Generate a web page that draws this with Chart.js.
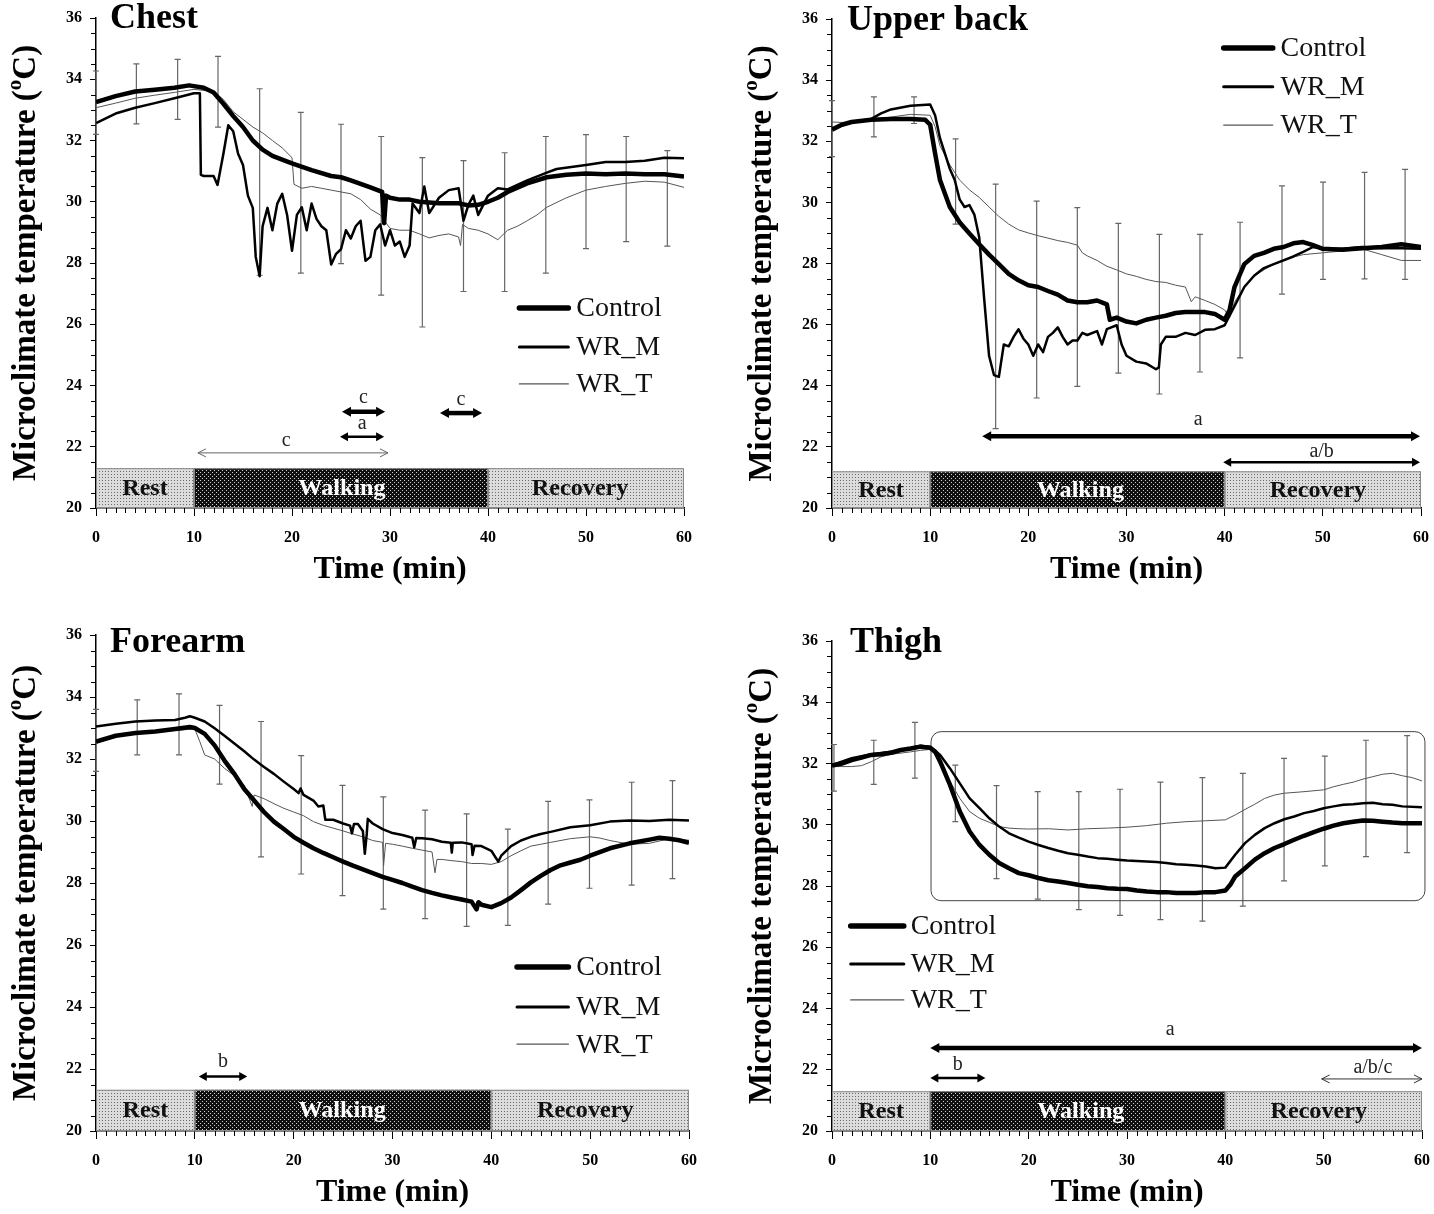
<!DOCTYPE html>
<html>
<head>
<meta charset="utf-8">
<script src="https://cdn.jsdelivr.net/npm/chart.js@4.4.1/dist/chart.umd.min.js"></script>
<style>
body { margin:0; background:#fff; width:1434px; height:1214px; position:relative; overflow:hidden; }
canvas { position:absolute; }
</style>
</head>
<body>
<canvas id="chest" width="717" height="607" style="left:0;top:0"></canvas>
<canvas id="upperback" width="740" height="607" style="left:717px;top:0"></canvas>
<canvas id="forearm" width="717" height="607" style="left:0;top:607px"></canvas>
<canvas id="thigh" width="740" height="607" style="left:717px;top:607px"></canvas>
<script>
// ---- data: [time (min), temperature (ºC)] ----
const chestControl = [[0,33.25],[1,33.35],[2,33.45],[4,33.6],[6,33.66],[8,33.72],[9.5,33.8],[11,33.72],[12,33.57],[13,33.2],[14,32.8],[15,32.44],[16,32.0],[17,31.7],[18,31.5],[20,31.25],[22,31.03],[24,30.84],[25,30.8],[26,30.7],[28,30.47],[29.2,30.32],[29.4,29.3],[29.6,30.2],[30,30.13],[31,30.07],[32,30.07],[33,30.0],[35,29.95],[37,29.95],[38,29.88],[39,29.9],[40,30.0],[41,30.13],[42,30.32],[44,30.6],[46,30.8],[48,30.88],[50,30.92],[52,30.9],[54,30.92],[56,30.9],[58,30.9],[60,30.82]];
const chestWRM = [[0,32.57],[2,32.88],[4,33.07],[6,33.22],[8,33.38],[10,33.54],[10.6,33.54],[10.7,30.88],[11,30.84],[12,30.84],[12.4,30.55],[13,31.57],[13.5,32.5],[14,32.3],[14.5,31.57],[15,31.2],[15.5,30.2],[16,29.8],[16.3,28.2],[16.7,27.57],[17,29.2],[17.5,29.8],[18,29.07],[18.5,29.94],[19,30.26],[19.5,29.57],[20,28.4],[20.5,29.57],[21,29.82],[21.5,29.07],[22,29.94],[22.5,29.44],[23,29.2],[23.5,29.07],[24,27.95],[24.5,28.3],[25,28.45],[25.5,29.07],[26,28.8],[26.5,29.2],[27,29.38],[27.5,28.07],[28,28.2],[28.5,29.07],[29,29.26],[29.5,28.57],[30,29.07],[30.5,28.57],[31,28.7],[31.5,28.2],[32,28.57],[32.3,29.94],[33,29.63],[33.5,30.5],[34,29.63],[35,30.13],[36,30.38],[37,30.44],[37.5,29.38],[38,29.9],[38.5,30.2],[39,29.57],[40,30.2],[41,30.44],[42,30.4],[44,30.7],[46,30.95],[47,31.07],[50,31.2],[52,31.3],[54,31.3],[56,31.34],[58,31.44],[60,31.42]];
const chestWRT = [[0,33.07],[2,33.22],[4,33.38],[6,33.48],[8,33.57],[10,33.67],[12,33.6],[13,33.34],[14,32.94],[15,32.69],[16,32.44],[17,32.25],[18,32.0],[19,31.76],[20,31.44],[20.2,30.57],[21,30.44],[22,30.5],[23,30.44],[24,30.38],[25,30.32],[26,30.26],[27,30.07],[28,29.76],[29,29.57],[30,29.13],[31,29.07],[32,29.07],[33,28.95],[34,28.82],[35,28.9],[36,28.95],[37,28.85],[37.2,28.57],[37.4,29.26],[38,29.13],[39,29.07],[40,28.95],[41,28.76],[42,29.07],[43,29.2],[44,29.38],[45,29.57],[46,29.82],[48,30.13],[50,30.38],[52,30.5],[54,30.6],[56,30.67],[58,30.64],[60,30.47]];
const chestErrT = [0,4.12,8.33,12.45,16.7,20.9,25.0,29.1,33.3,37.5,41.7,45.9,50.0,54.1,58.3];
const chestErrHi = [34.27,34.5,34.65,34.75,33.69,32.92,32.53,32.13,31.44,31.34,31.6,32.13,32.19,32.13,31.67];
const chestErrLo = [32.2,32.54,32.69,32.44,27.6,27.67,27.98,26.95,25.91,27.07,27.07,27.67,28.47,28.7,28.55];

const backControl = [[0,32.38],[1,32.54],[2,32.63],[4,32.7],[6,32.73],[8,32.73],[9.5,32.7],[10,32.54],[10.5,31.6],[11,30.73],[12,29.85],[13,29.35],[14,28.98],[15,28.63],[16,28.29],[17,27.98],[18,27.66],[19,27.45],[20,27.29],[21,27.23],[22,27.1],[23,26.98],[24,26.79],[25,26.73],[26,26.73],[27,26.79],[28,26.66],[28.3,26.16],[29,26.23],[30,26.1],[31,26.04],[32,26.16],[33,26.23],[34,26.29],[35,26.38],[36,26.41],[37,26.41],[38,26.41],[39,26.35],[40,26.16],[40.5,26.48],[41,27.23],[42,27.98],[43,28.25],[44,28.35],[45,28.48],[46,28.54],[47,28.66],[48,28.7],[49,28.6],[50,28.48],[52,28.45],[54,28.5],[56,28.54],[58,28.63],[60,28.54]];
const backWRM = [[0,32.41],[2,32.63],[4,32.73],[5,32.91],[6,33.04],[8,33.16],[10,33.2],[10.5,32.85],[11,32.1],[12,31.1],[12.5,30.73],[13,30.1],[13.5,29.85],[14,29.91],[14.5,29.6],[15,28.85],[15.5,26.85],[16,24.98],[16.5,24.35],[17,24.29],[17.5,25.35],[18,25.29],[18.5,25.6],[19,25.85],[19.5,25.54],[20,25.35],[20.5,24.98],[21,25.35],[21.5,25.1],[22,25.6],[22.5,25.73],[23,25.91],[23.5,25.6],[24,25.35],[24.5,25.48],[25,25.48],[25.5,25.73],[26,25.66],[27,25.79],[27.5,25.35],[28,25.85],[29,25.98],[29.5,25.35],[30,24.98],[31,24.79],[32,24.73],[33,24.54],[33.3,24.6],[33.5,25.35],[34,25.6],[35,25.6],[36,25.73],[37,25.66],[38,25.83],[39,25.85],[40,25.98],[41,26.6],[42,27.23],[43,27.6],[44,27.85],[45,27.98],[46,28.1],[47,28.23],[48,28.38],[49,28.54],[50,28.48],[52,28.48],[54,28.54],[56,28.5],[58,28.5],[60,28.48]];
const backWRT = [[0,32.63],[2,32.6],[4,32.7],[6,32.79],[8,32.88],[10,32.85],[10.5,32.48],[11,31.85],[12,31.23],[13,30.73],[14,30.41],[15,30.16],[16,29.85],[17,29.54],[18,29.29],[19,29.1],[20,29.0],[21,28.91],[22,28.83],[23,28.75],[24,28.69],[25,28.6],[25.5,28.35],[26,28.25],[27,28.1],[28,27.91],[29,27.79],[30,27.66],[31,27.58],[32,27.48],[33,27.41],[34,27.38],[35,27.29],[36,27.23],[36.6,26.75],[37,26.91],[38,26.79],[39,26.66],[40,26.48],[40.5,26.23],[41,26.73],[42,27.23],[43,27.6],[44,27.79],[45,27.98],[46,28.13],[48,28.29],[50,28.35],[52,28.41],[54,28.48],[56,28.29],[58,28.1],[60,28.1]];
const backErrT = [0,4.27,8.36,12.59,16.67,20.85,24.99,29.17,33.35,37.48,41.57,45.84,50.02,54.25,58.38];
const backErrHi = [33.33,33.45,33.45,32.08,30.6,30.04,29.83,29.31,28.95,28.95,29.35,30.54,30.66,30.98,31.08];
const backErrLo = [31.5,32.14,32.58,29.29,22.6,23.6,23.98,24.41,23.73,24.45,24.91,27.0,27.48,27.5,27.48];

const armControl = [[0,32.56],[2,32.75],[4,32.84],[6,32.89],[8,32.97],[9.5,33.03],[10,33.0],[11,32.81],[12,32.44],[13,31.95],[14,31.52],[15,31.03],[16,30.66],[17,30.29],[18,29.98],[19,29.74],[20,29.49],[21,29.3],[22,29.12],[23,28.97],[24,28.83],[25,28.69],[26,28.56],[27,28.44],[28,28.32],[29,28.2],[30,28.1],[31,28.0],[32,27.88],[33,27.77],[34,27.68],[35,27.6],[36,27.53],[37,27.47],[38,27.4],[38.5,27.15],[38.7,27.38],[39,27.3],[40,27.22],[41,27.35],[42,27.53],[43,27.77],[44,28.02],[45,28.23],[46,28.42],[47,28.57],[48,28.66],[49,28.75],[50,28.88],[52,29.12],[54,29.28],[56,29.4],[57,29.46],[58,29.43],[59,29.38],[60,29.3]];
const armWRM = [[0,33.05],[2,33.14],[4,33.21],[6,33.24],[8,33.26],[9,33.33],[9.5,33.38],[10,33.33],[11,33.21],[12,32.99],[13,32.75],[14,32.5],[15,32.25],[16,31.98],[17,31.74],[18,31.52],[19,31.27],[20,31.03],[20.5,30.9],[20.7,31.05],[21,30.84],[22,30.66],[22.5,30.47],[23,30.5],[23.2,30.04],[24,30.04],[25,29.92],[25.7,29.85],[25.9,29.6],[26.1,29.9],[26.5,29.9],[27,29.68],[27.2,28.94],[27.4,29.6],[27.5,30.07],[28,29.92],[29,29.74],[30,29.61],[31,29.55],[32,29.46],[32.2,29.15],[32.4,29.45],[33,29.44],[34,29.41],[35,29.33],[35.9,29.3],[36,28.98],[36.1,29.3],[37,29.31],[38,29.25],[38.1,28.9],[38.3,29.2],[39,29.19],[40,29.04],[40.7,28.69],[41,28.88],[42,29.19],[43,29.37],[44,29.49],[45,29.58],[46,29.65],[48,29.8],[50,29.86],[52,29.98],[54,30.02],[56,30.0],[58,30.04],[60,30.02]];
const armWRT = [[0,32.5],[2,32.72],[4,32.81],[6,32.87],[8,32.92],[10,32.97],[10.5,32.56],[11,32.13],[12,32.0],[13,31.7],[14,31.46],[15,31.15],[15.8,30.47],[16,30.84],[17,30.72],[18,30.56],[19,30.41],[20,30.29],[21,30.17],[22,29.98],[23,29.86],[24,29.77],[25,29.68],[26,29.58],[27,29.49],[28,29.37],[29,29.31],[29.1,28.57],[29.3,29.28],[30,29.25],[31,29.19],[32,29.12],[33,29.06],[34,29.0],[34.3,28.33],[34.5,28.76],[35,28.76],[36,28.72],[37,28.69],[38,28.63],[39,28.63],[40,28.6],[41,28.69],[42,28.88],[43,29.04],[44,29.19],[45,29.25],[46,29.31],[48,29.43],[50,29.49],[51,29.45],[52,29.37],[54,29.25],[56,29.28],[58,29.43],[60,29.38]];
const armErrT = [0,4.17,8.4,12.5,16.7,20.76,24.94,29.07,33.3,37.5,41.67,45.75,49.93,54.2,58.33];
const armErrHi = [33.6,33.91,34.1,33.73,33.21,32.11,31.15,30.78,30.35,30.23,29.74,30.63,30.68,31.25,31.3];
const armErrLo = [31.6,32.13,32.13,31.19,28.84,28.29,27.59,27.16,26.85,26.6,26.63,27.32,27.83,27.93,28.14];

const thighControl = [[0,31.93],[1,32.0],[2,32.11],[3,32.19],[4,32.28],[5,32.3],[6,32.35],[7,32.44],[8,32.49],[9,32.55],[10,32.51],[10.5,32.38],[11,32.06],[12,31.3],[13,30.43],[14,29.78],[15,29.34],[16,29.02],[17,28.75],[18,28.58],[19,28.42],[20,28.35],[21,28.26],[22,28.19],[23,28.15],[24,28.1],[25,28.04],[26,27.99],[27,27.97],[28,27.93],[29,27.91],[30,27.9],[31,27.85],[32,27.82],[33,27.8],[34,27.8],[35,27.77],[36,27.77],[37,27.77],[38,27.8],[39,27.8],[40,27.85],[40.5,28.04],[41,28.31],[42,28.58],[43,28.86],[44,29.07],[45,29.24],[46,29.37],[47,29.51],[48,29.64],[49,29.76],[50,29.87],[51,29.97],[52,30.05],[53,30.1],[54,30.14],[55,30.13],[56,30.1],[57,30.07],[58,30.05],[60,30.05]];
const thighWRM = [[0,31.95],[2,32.17],[4,32.3],[6,32.38],[8,32.51],[9,32.58],[10,32.55],[11,32.28],[12,31.84],[13,31.35],[14,30.86],[15,30.54],[16,30.21],[17,29.94],[18,29.72],[19,29.58],[20,29.45],[21,29.34],[22,29.24],[23,29.15],[24,29.07],[25,29.02],[26,28.96],[27,28.91],[28,28.89],[29,28.86],[30,28.83],[31,28.82],[32,28.8],[33,28.78],[34,28.75],[35,28.71],[36,28.69],[37,28.67],[38,28.64],[39,28.58],[40,28.6],[41,29.02],[42,29.4],[43,29.67],[44,29.89],[45,30.05],[46,30.18],[47,30.27],[48,30.38],[49,30.45],[50,30.54],[51,30.6],[52,30.65],[53,30.67],[54,30.7],[55,30.72],[56,30.67],[57,30.65],[58,30.6],[60,30.57]];
const thighWRT = [[0,31.9],[2,31.9],[3,31.93],[4,32.06],[5,32.22],[6,32.3],[8,32.38],[9,32.43],[10,32.46],[10.5,32.28],[11,31.95],[12,31.41],[13,30.86],[14,30.43],[15,30.21],[16,30.08],[17,29.94],[18,29.89],[19,29.87],[20,29.86],[22,29.87],[24,29.83],[26,29.87],[28,29.89],[30,29.92],[32,29.97],[34,30.05],[36,30.1],[38,30.13],[40,30.16],[41,30.32],[42,30.5],[43,30.67],[44,30.86],[45,30.97],[46,31.03],[48,31.08],[50,31.14],[51,31.24],[52,31.32],[53,31.39],[54,31.49],[55,31.57],[56,31.65],[57,31.68],[58,31.6],[59,31.54],[60,31.43]];
const thighErrT = [0.2,4.25,8.43,12.54,16.73,20.92,25.1,29.29,33.4,37.67,41.78,45.97,50.12,54.3,58.49];
const thighErrHi = [32.62,32.76,33.34,31.95,31.28,31.08,31.08,31.16,31.39,31.54,31.68,32.17,32.24,32.76,32.91];
const thighErrLo = [31.1,31.32,31.52,30.1,28.24,27.57,27.23,27.04,26.9,26.85,27.34,28.17,28.66,28.96,29.09];

const seriesNames = ['Control', 'WR_M', 'WR_T'];
const phaseNames = ['Rest', 'Walking', 'Recovery'];
const phaseEdges = [0, 10, 40, 60];
const yTicks = [20, 22, 24, 26, 28, 30, 32, 34, 36];
const xTicks = [0, 10, 20, 30, 40, 50, 60];

const SERIF = '"Liberation Serif", "Times New Roman", serif';
Chart.defaults.font.family = SERIF;

function txt(ctx, s, x, y, size, o) {
    o = o || {};
    ctx.save();
    ctx.font = (o.bold ? 'bold ' : '') + size + 'px ' + SERIF;
    ctx.fillStyle = o.color || '#000';
    ctx.textAlign = o.align || 'left';
    ctx.textBaseline = o.base || 'alphabetic';
    ctx.translate(x, y);
    if (o.rot) ctx.rotate(o.rot);
    ctx.scale(o.sx || 1, 1);
    ctx.fillText(s, 0, 0);
    ctx.restore();
}

function makePattern(ctx, bg, dot, size, two) {
    const c = document.createElement('canvas');
    c.width = c.height = size;
    const g = c.getContext('2d');
    g.fillStyle = bg; g.fillRect(0, 0, size, size);
    g.fillStyle = dot; g.fillRect(0, 0, 1, 1);
    if (two) g.fillRect(size / 2, size / 2, 1, 1);
    return ctx.createPattern(c, 'repeat');
}

function drawArrow(ctx, xa, xb, y, style, color) {
    const w = style === 'thick' ? 4.5 : style === 'med' ? 2.5 : 1;
    const hl = style === 'thick' ? 9 : 8;
    const hw = style === 'thick' ? 5 : style === 'med' ? 4.5 : 4;
    ctx.save();
    ctx.strokeStyle = color; ctx.fillStyle = color; ctx.lineWidth = w;
    ctx.beginPath();
    if (style === 'thin') {
        ctx.moveTo(xa, y); ctx.lineTo(xb, y);
        ctx.moveTo(xa + hl, y - hw); ctx.lineTo(xa, y); ctx.lineTo(xa + hl, y + hw);
        ctx.moveTo(xb - hl, y - hw); ctx.lineTo(xb, y); ctx.lineTo(xb - hl, y + hw);
        ctx.stroke();
    } else {
        ctx.moveTo(xa + hl * 0.6, y); ctx.lineTo(xb - hl * 0.6, y);
        ctx.stroke();
        ctx.beginPath();
        ctx.moveTo(xa, y); ctx.lineTo(xa + hl, y - hw); ctx.lineTo(xa + hl, y + hw); ctx.closePath();
        ctx.moveTo(xb, y); ctx.lineTo(xb - hl, y - hw); ctx.lineTo(xb - hl, y + hw); ctx.closePath();
        ctx.fill();
    }
    ctx.restore();
}

function decor(p) {
    return {
        id: 'decor',
        beforeDatasetsDraw(chart) {
            const ctx = chart.ctx, a = chart.chartArea, x = chart.scales.x, y = chart.scales.y;
            // phase bars
            const pats = [
                makePattern(ctx, '#dcdcdc', '#6a6a6a', 3),
                makePattern(ctx, '#101010', '#d0d0d0', 4, true),
                makePattern(ctx, '#dcdcdc', '#6a6a6a', 3)
            ];
            const top = y.getPixelForValue(p.barTop);
            for (let i = 0; i < 3; i++) {
                const x0 = x.getPixelForValue(phaseEdges[i]), x1 = x.getPixelForValue(phaseEdges[i + 1]);
                ctx.fillStyle = pats[i];
                ctx.fillRect(x0, top, x1 - x0, a.bottom - top);
                ctx.strokeStyle = '#8a8a8a'; ctx.lineWidth = 1;
                ctx.strokeRect(x0 + 0.5, top + 0.5, x1 - x0 - 1, a.bottom - top - 1);
                txt(ctx, phaseNames[i], x.getPixelForValue(p.phaseLabelX[i]), (top + a.bottom) / 2 + 1, 23,
                    {bold: true, align: 'center', base: 'middle', color: i === 1 ? '#fff' : '#111', sx: 1.05});
            }
            // error bars
            ctx.save();
            ctx.strokeStyle = '#666'; ctx.lineWidth = 1.2;
            p.errT.forEach((t, i) => {
                const px = x.getPixelForValue(t);
                const hi = y.getPixelForValue(p.errHi[i]), lo = y.getPixelForValue(p.errLo[i]);
                ctx.beginPath();
                ctx.moveTo(px, hi); ctx.lineTo(px, lo);
                ctx.moveTo(px - 3, hi); ctx.lineTo(px + 3, hi);
                ctx.moveTo(px - 3, lo); ctx.lineTo(px + 3, lo);
                ctx.stroke();
            });
            ctx.restore();
            if (p.box) {
                const b = p.box;
                const bx0 = x.getPixelForValue(b.x0), bx1 = x.getPixelForValue(b.x1);
                const by0 = y.getPixelForValue(b.y1), by1 = y.getPixelForValue(b.y0);
                ctx.save();
                ctx.strokeStyle = '#444'; ctx.lineWidth = 1;
                ctx.beginPath();
                ctx.roundRect(bx0, by0, bx1 - bx0, by1 - by0, 10);
                ctx.stroke();
                ctx.restore();
            }
        },
        afterDraw(chart) {
            const ctx = chart.ctx, a = chart.chartArea, x = chart.scales.x, y = chart.scales.y;
            // minor ticks
            ctx.save();
            ctx.strokeStyle = '#000'; ctx.lineWidth = 1;
            ctx.beginPath();
            for (let v = 20.5; v < 36; v += 0.5) {
                if (v % 2 === 0) continue;
                const py = Math.round(y.getPixelForValue(v)) + 0.5;
                ctx.moveTo(a.left - 5, py); ctx.lineTo(a.left, py);
            }
            for (let t = 1; t < 60; t++) {
                if (t % 10 === 0) continue;
                const px = Math.round(x.getPixelForValue(t)) + 0.5;
                ctx.moveTo(px, a.bottom); ctx.lineTo(px, a.bottom + 5);
            }
            ctx.stroke();
            ctx.restore();
            // panel title
            txt(ctx, p.title, a.left + p.titleDx, y.getPixelForValue(p.titleY), 36, {bold: true});
            // legend
            const lw = [5.5, 3, 1.2], lc = ['#000', '#000', '#555'];
            p.leg.y.forEach((v, i) => {
                const py = y.getPixelForValue(v);
                ctx.save();
                ctx.strokeStyle = lc[i]; ctx.lineWidth = lw[i]; ctx.lineCap = 'round';
                ctx.beginPath();
                ctx.moveTo(x.getPixelForValue(p.leg.x0), py); ctx.lineTo(x.getPixelForValue(p.leg.x1), py);
                ctx.stroke();
                ctx.restore();
                txt(ctx, seriesNames[i], x.getPixelForValue(p.leg.tx), py + 1, 28, {base: 'middle', color: '#111'});
            });
            // significance arrows
            p.arrows.forEach(ar => {
                const xa = x.getPixelForValue(ar.x0), xb = x.getPixelForValue(ar.x1);
                drawArrow(ctx, xa, xb, y.getPixelForValue(ar.y), ar.style, ar.color || '#000');
                txt(ctx, ar.label, x.getPixelForValue(ar.lx !== undefined ? ar.lx : (ar.x0 + ar.x1) / 2),
                    y.getPixelForValue(ar.ly), 20, {align: 'center', base: 'middle', color: '#222'});
            });
            // axis titles
            txt(ctx, 'Time (min)', (a.left + a.right) / 2, a.bottom + 70, 32, {bold: true, align: 'center'});
            ctx.save();
            ctx.translate(a.left - 72, (a.top + a.bottom) / 2);
            ctx.rotate(-Math.PI / 2);
            ctx.fillStyle = '#000';
            ctx.textBaseline = 'middle';
            const big = 'bold 33px ' + SERIF, small = 'bold 21px ' + SERIF;
            const parts = [['Microclimate temperature (', big, 0], ['o', small, -10], ['C)', big, 0]];
            let total = 0;
            parts.forEach(pt => { ctx.font = pt[1]; total += ctx.measureText(pt[0]).width; });
            let cx = -total / 2;
            parts.forEach(pt => {
                ctx.font = pt[1];
                ctx.fillText(pt[0], cx, pt[2] + 2);
                cx += ctx.measureText(pt[0]).width;
            });
            ctx.restore();
        }
    };
}

function makePanel(id, p) {
    const canvas = document.getElementById(id);
    return new Chart(canvas, {
        type: 'line',
        data: {
            datasets: [
                {label: seriesNames[0], data: p.series[0], borderColor: '#000', borderWidth: 4.5},
                {label: seriesNames[1], data: p.series[1], borderColor: '#000', borderWidth: 2.5},
                {label: seriesNames[2], data: p.series[2], borderColor: '#555', borderWidth: 1}
            ]
        },
        options: {
            responsive: false,
            animation: false,
            devicePixelRatio: 1,
            layout: {padding: p.pad},
            elements: {point: {radius: 0}, line: {tension: 0, borderJoinStyle: 'round', fill: false}},
            plugins: {legend: {display: false}, tooltip: {enabled: false}},
            scales: {
                x: {
                    type: 'linear', min: 0, max: 60,
                    afterBuildTicks: s => { s.ticks = xTicks.map(v => ({value: v})); },
                    afterFit: s => { s.height = p.xh; },
                    ticks: {color: '#000', font: {size: 16, weight: 'bold'}, padding: 12, maxRotation: 0},
                    grid: {drawOnChartArea: false, drawTicks: true, tickLength: 8, color: '#000', lineWidth: 1},
                    border: {display: true, color: '#000', width: 1.5}
                },
                y: {
                    min: 20, max: 36,
                    afterBuildTicks: s => { s.ticks = yTicks.map(v => ({value: v})); },
                    afterFit: s => { s.width = 60; },
                    ticks: {color: '#000', font: {size: 16, weight: 'bold'}, padding: 8},
                    grid: {drawOnChartArea: false, drawTicks: true, tickLength: 6, color: '#000', lineWidth: 1},
                    border: {display: true, color: '#000', width: 1.5}
                }
            }
        },
        plugins: [decor(p)]
    });
}

makePanel('chest', {
    title: 'Chest', titleDx: 14, titleY: 35.67,
    series: [chestControl, chestWRM, chestWRT],
    errT: chestErrT, errHi: chestErrHi, errLo: chestErrLo,
    pad: {left: 36, right: 33, top: 18, bottom: 0}, xh: 99,
    barTop: 21.3, phaseLabelX: [5, 25.1, 49.4],
    leg: {x0: 43.2, x1: 48.2, tx: 49.0, y: [26.53, 25.26, 24.05]},
    arrows: [
        {x0: 25.1, x1: 29.5, y: 23.14, style: 'thick', label: 'c', ly: 23.6},
        {x0: 35.1, x1: 39.4, y: 23.1, style: 'thick', label: 'c', ly: 23.55},
        {x0: 24.9, x1: 29.4, y: 22.33, style: 'med', label: 'a', ly: 22.75},
        {x0: 10.4, x1: 29.8, y: 21.8, style: 'thin', color: '#666', label: 'c', lx: 19.4, ly: 22.2}
    ]
});

makePanel('upperback', {
    title: 'Upper back', titleDx: 15, titleY: 35.65,
    series: [backControl, backWRM, backWRT],
    errT: backErrT, errHi: backErrHi, errLo: backErrLo,
    pad: {left: 55, right: 36, top: 19, bottom: 0}, xh: 99,
    barTop: 21.2, phaseLabelX: [5, 25.3, 49.5],
    leg: {x0: 39.9, x1: 44.9, tx: 45.7, y: [35.05, 33.78, 32.53]},
    arrows: [
        {x0: 15.3, x1: 59.9, y: 22.35, style: 'thick', label: 'a', lx: 37.3, ly: 22.9},
        {x0: 39.85, x1: 59.9, y: 21.5, style: 'med', label: 'a/b', ly: 21.85}
    ]
});

makePanel('forearm', {
    title: 'Forearm', titleDx: 14, titleY: 35.45,
    series: [armControl, armWRM, armWRT],
    errT: armErrT, errHi: armErrHi, errLo: armErrLo,
    pad: {left: 36, right: 28, top: 28, bottom: 0}, xh: 83,
    barTop: 21.33, phaseLabelX: [5, 24.9, 49.5],
    leg: {x0: 42.6, x1: 47.8, tx: 48.6, y: [25.29, 24.0, 22.8]},
    arrows: [
        {x0: 10.4, x1: 15.3, y: 21.76, style: 'med', label: 'b', ly: 22.25}
    ]
});

makePanel('thigh', {
    title: 'Thigh', titleDx: 18, titleY: 35.64,
    series: [thighControl, thighWRM, thighWRT],
    errT: thighErrT, errHi: thighErrHi, errLo: thighErrLo,
    pad: {left: 55, right: 35, top: 34, bottom: 0}, xh: 83,
    barTop: 21.3, phaseLabelX: [5, 25.3, 49.5],
    box: {x0: 10.07, x1: 60.3, y0: 27.52, y1: 33.04},
    leg: {x0: 1.9, x1: 7.3, tx: 8.0, y: [26.69, 25.45, 24.28]},
    arrows: [
        {x0: 10, x1: 60, y: 22.71, style: 'thick', label: 'a', lx: 34.4, ly: 23.3},
        {x0: 10, x1: 15.6, y: 21.73, style: 'med', label: 'b', lx: 12.8, ly: 22.15},
        {x0: 49.8, x1: 60, y: 21.7, style: 'thin', color: '#333', label: 'a/b/c', lx: 55, ly: 22.08}
    ]
});
</script>
</body>
</html>
